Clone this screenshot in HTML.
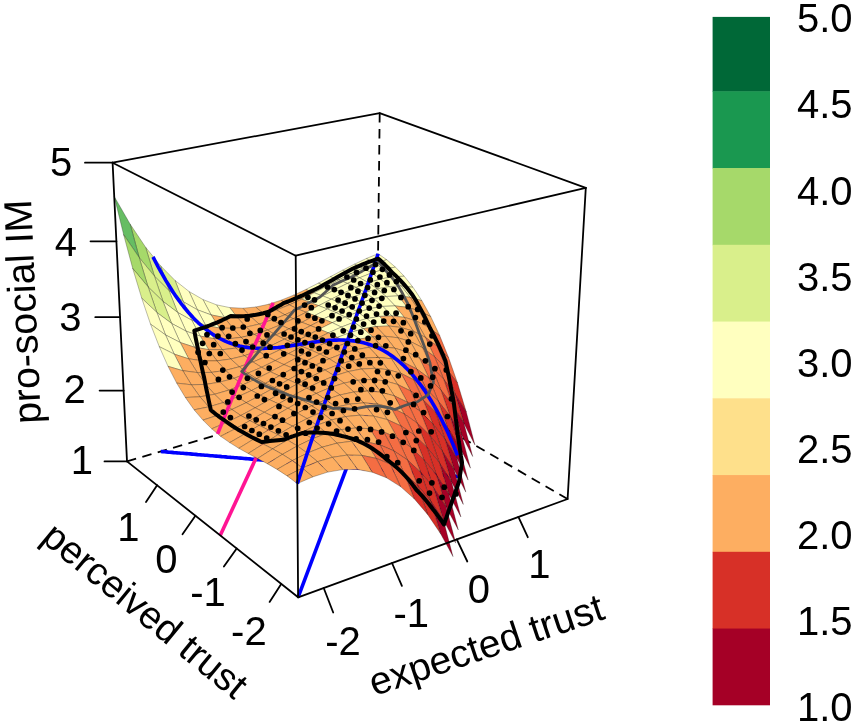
<!DOCTYPE html>
<html><head><meta charset="utf-8"><title>RSA plot</title>
<style>html,body{margin:0;padding:0;background:#fff}body{width:856px;height:727px;overflow:hidden;position:relative}</style></head>
<body>
<svg width="856" height="727" viewBox="0 0 856 727" style="position:absolute;left:0;top:0;filter:blur(0.5px)">
<rect width="856" height="727" fill="#fff"/>
<line x1="127.0" y1="461.4" x2="376.5" y2="388.1" stroke="#000" stroke-width="1.8" stroke-dasharray="9.5,6.5"/>
<line x1="567.6" y1="499.0" x2="376.5" y2="388.1" stroke="#000" stroke-width="1.8" stroke-dasharray="9.5,6.5"/>
<line x1="379.7" y1="113.1" x2="376.5" y2="388.1" stroke="#000" stroke-width="1.8" stroke-dasharray="9.5,6.5"/>
<polyline points="298.1,597.3 376.5,388.1" fill="none" stroke="#0000FF" stroke-width="3.6" stroke-linecap="butt" stroke-linejoin="round"/>
<polyline points="160.8,451.5 162.7,451.6 164.5,451.8 166.3,451.9 168.2,452.1 170.0,452.2 171.8,452.4 173.7,452.6 175.5,452.7 177.4,452.9 179.2,453.0 181.0,453.2 182.9,453.3 184.7,453.5 186.6,453.6 188.4,453.8 190.3,453.9 192.1,454.1 193.9,454.3 195.8,454.4 197.6,454.6 199.5,454.7 201.3,454.9 203.2,455.0 205.0,455.2 206.9,455.3 208.7,455.5 210.6,455.7 212.5,455.8 214.3,456.0 216.2,456.1 218.0,456.3 219.9,456.4 221.7,456.6 223.6,456.7 225.4,456.9 227.3,457.1 229.2,457.2 231.0,457.4 232.9,457.5 234.8,457.7 236.6,457.8 238.5,458.0 240.3,458.1 242.2,458.3 244.1,458.5 245.9,458.6 247.8,458.8 249.7,458.9 251.5,459.1 253.4,459.2 255.3,459.4 257.2,459.6 259.0,459.7 260.9,459.9 262.8,460.0 264.7,460.2 266.5,460.3 268.4,460.5 270.3,460.7 272.2,460.8 274.0,461.0 275.9,461.1 277.8,461.3 279.7,461.4 281.6,461.6 283.4,461.8 285.3,461.9 287.2,462.1 289.1,462.2 291.0,462.4 292.9,462.6 294.7,462.7 296.6,462.9 298.5,463.0 300.4,463.2 302.3,463.3 304.2,463.5 306.1,463.7 308.0,463.8 309.9,464.0 311.8,464.1 313.7,464.3 315.5,464.5 317.4,464.6 319.3,464.8 321.2,464.9 323.1,465.1 325.0,465.3 326.9,465.4 328.8,465.6 330.7,465.7 332.6,465.9 334.5,466.1 336.4,466.2 338.3,466.4 340.2,466.5 342.2,466.7 344.1,466.9 346.0,467.0 347.9,467.2 349.8,467.3 351.7,467.5 353.6,467.7 355.5,467.8 357.4,468.0 359.3,468.1 361.3,468.3 363.2,468.5 365.1,468.6 367.0,468.8 368.9,468.9 370.8,469.1 372.7,469.3 374.7,469.4 376.6,469.6 378.5,469.7 380.4,469.9 382.3,470.1 384.3,470.2 386.2,470.4 388.1,470.5 390.0,470.7 392.0,470.9 393.9,471.0 395.8,471.2 397.7,471.4 399.7,471.5 401.6,471.7 403.5,471.8 405.5,472.0 407.4,472.2 409.3,472.3 411.3,472.5 413.2,472.7 415.1,472.8 417.1,473.0 419.0,473.1 420.9,473.3 422.9,473.5 424.8,473.6 426.8,473.8 428.7,474.0 430.6,474.1 432.6,474.3 434.5,474.4 436.5,474.6 438.4,474.8 440.4,474.9 442.3,475.1 444.3,475.3 446.2,475.4 448.2,475.6 450.1,475.7 452.1,475.9 454.0,476.1 456.0,476.2 457.9,476.4 459.9,476.6 461.8,476.7" fill="none" stroke="#0000FF" stroke-width="3.6" stroke-linecap="butt" stroke-linejoin="round"/>
<polyline points="220.2,535.4 274.6,418.1" fill="none" stroke="#FF1493" stroke-width="3.6" stroke-linecap="butt"/>
<g stroke="#000" stroke-opacity="0.45" stroke-width="0.6" stroke-linejoin="round">
<polygon points="374.9,263.4 386.7,259.7 378.1,253.7 366.3,258.5" fill="#FFFFBF"/>
<polygon points="363.0,268.2 374.9,263.4 366.3,258.5 354.4,264.2" fill="#FFFFBF"/>
<polygon points="383.6,269.4 395.4,267.1 386.7,259.7 374.9,263.4" fill="#FFFFBF"/>
<polygon points="350.9,273.7 363.0,268.2 354.4,264.2 342.4,270.3" fill="#FFFFBF"/>
<polygon points="371.6,273.0 383.6,269.4 374.9,263.4 363.0,268.2" fill="#FFFFBF"/>
<polygon points="338.8,279.9 350.9,273.7 342.4,270.3 330.3,276.7" fill="#FFFFBF"/>
<polygon points="392.3,276.8 404.2,276.2 395.4,267.1 383.6,269.4" fill="#FFFFBF"/>
<polygon points="359.5,277.8 371.6,273.0 363.0,268.2 350.9,273.7" fill="#FFFFBF"/>
<polygon points="326.6,286.3 338.8,279.9 330.3,276.7 318.2,283.2" fill="#FFFFBF"/>
<polygon points="380.4,279.1 392.3,276.8 383.6,269.4 371.6,273.0" fill="#FFFFBF"/>
<polygon points="401.2,286.0 413.0,287.3 404.2,276.2 392.3,276.8" fill="#FFFFBF"/>
<polygon points="347.4,283.4 359.5,277.8 350.9,273.7 338.8,279.9" fill="#FFFFBF"/>
<polygon points="314.2,292.8 326.6,286.3 318.2,283.2 305.9,289.4" fill="#FFFFBF"/>
<polygon points="368.3,282.7 380.4,279.1 371.6,273.0 359.5,277.8" fill="#FFFFBF"/>
<polygon points="335.1,289.5 347.4,283.4 338.8,279.9 326.6,286.3" fill="#FFFFBF"/>
<polygon points="389.2,286.6 401.2,286.0 392.3,276.8 380.4,279.1" fill="#FFFFBF"/>
<polygon points="410.1,297.3 421.9,300.7 413.0,287.3 401.2,286.0" fill="#FFFFBF"/>
<polygon points="301.8,299.1 314.2,292.8 305.9,289.4 293.5,295.2" fill="#FDAE61"/>
<polygon points="356.1,287.4 368.3,282.7 359.5,277.8 347.4,283.4" fill="#FFFFBF"/>
<polygon points="322.7,296.0 335.1,289.5 326.6,286.3 314.2,292.8" fill="#FFFFBF"/>
<polygon points="289.3,304.9 301.8,299.1 293.5,295.2 281.0,300.2" fill="#FDAE61"/>
<polygon points="419.1,310.8 430.8,316.7 421.9,300.7 410.1,297.3" fill="#FDAE61"/>
<polygon points="377.1,288.9 389.2,286.6 380.4,279.1 368.3,282.7" fill="#FFFFBF"/>
<polygon points="398.2,295.9 410.1,297.3 401.2,286.0 389.2,286.6" fill="#FFFFBF"/>
<polygon points="343.7,293.0 356.1,287.4 347.4,283.4 335.1,289.5" fill="#FFFFBF"/>
<polygon points="310.2,302.5 322.7,296.0 314.2,292.8 301.8,299.1" fill="#FFFFBF"/>
<polygon points="276.6,310.0 289.3,304.9 281.0,300.2 268.4,304.3" fill="#FDAE61"/>
<polygon points="428.1,327.0 439.7,335.6 430.8,316.7 419.1,310.8" fill="#FDAE61"/>
<polygon points="364.9,292.5 377.1,288.9 368.3,282.7 356.1,287.4" fill="#FFFFBF"/>
<polygon points="331.3,299.2 343.7,293.0 335.1,289.5 322.7,296.0" fill="#FFFFBF"/>
<polygon points="386.1,296.5 398.2,295.9 389.2,286.6 377.1,288.9" fill="#FFFFBF"/>
<polygon points="407.2,307.3 419.1,310.8 410.1,297.3 398.2,295.9" fill="#FDAE61"/>
<polygon points="297.6,308.9 310.2,302.5 301.8,299.1 289.3,304.9" fill="#FDAE61"/>
<polygon points="437.1,346.1 448.6,357.6 439.7,335.6 428.1,327.0" fill="#F46D43"/>
<polygon points="263.9,314.1 276.6,310.0 268.4,304.3 255.7,307.0" fill="#FDAE61"/>
<polygon points="352.5,297.2 364.9,292.5 356.1,287.4 343.7,293.0" fill="#FFFFBF"/>
<polygon points="318.7,305.7 331.3,299.2 322.7,296.0 310.2,302.5" fill="#FFFFBF"/>
<polygon points="446.1,368.3 457.5,383.0 448.6,357.6 437.1,346.1" fill="#F46D43"/>
<polygon points="284.9,314.8 297.6,308.9 289.3,304.9 276.6,310.0" fill="#FDAE61"/>
<polygon points="416.3,321.0 428.1,327.0 419.1,310.8 407.2,307.3" fill="#FDAE61"/>
<polygon points="373.8,298.7 386.1,296.5 377.1,288.9 364.9,292.5" fill="#FFFFBF"/>
<polygon points="395.1,305.9 407.2,307.3 398.2,295.9 386.1,296.5" fill="#FFFFBF"/>
<polygon points="455.1,394.0 466.3,412.0 457.5,383.0 446.1,368.3" fill="#D73027"/>
<polygon points="340.0,302.8 352.5,297.2 343.7,293.0 331.3,299.2" fill="#FFFFBF"/>
<polygon points="250.9,316.9 263.9,314.1 255.7,307.0 242.8,308.2" fill="#FDAE61"/>
<polygon points="306.1,312.3 318.7,305.7 310.2,302.5 297.6,308.9" fill="#FDAE61"/>
<polygon points="463.9,423.3 474.9,444.9 466.3,412.0 455.1,394.0" fill="#A50026"/>
<polygon points="272.1,319.9 284.9,314.8 276.6,310.0 263.9,314.1" fill="#FDAE61"/>
<polygon points="425.3,337.3 437.1,346.1 428.1,327.0 416.3,321.0" fill="#FDAE61"/>
<polygon points="361.4,302.3 373.8,298.7 364.9,292.5 352.5,297.2" fill="#FFFFBF"/>
<polygon points="327.4,309.0 340.0,302.8 331.3,299.2 318.7,305.7" fill="#FFFFBF"/>
<polygon points="382.8,306.4 395.1,305.9 386.1,296.5 373.8,298.7" fill="#FFFFBF"/>
<polygon points="404.2,317.3 416.3,321.0 407.2,307.3 395.1,305.9" fill="#FDAE61"/>
<polygon points="293.4,318.8 306.1,312.3 297.6,308.9 284.9,314.8" fill="#FDAE61"/>
<polygon points="237.9,318.2 250.9,316.9 242.8,308.2 229.7,307.6" fill="#FDAE61"/>
<polygon points="434.5,356.6 446.1,368.3 437.1,346.1 425.3,337.3" fill="#F46D43"/>
<polygon points="259.2,324.1 272.1,319.9 263.9,314.1 250.9,316.9" fill="#FDAE61"/>
<polygon points="348.8,307.0 361.4,302.3 352.5,297.2 340.0,302.8" fill="#FFFFBF"/>
<polygon points="314.7,315.6 327.4,309.0 318.7,305.7 306.1,312.3" fill="#FFFFBF"/>
<polygon points="443.6,379.1 455.1,394.0 446.1,368.3 434.5,356.6" fill="#F46D43"/>
<polygon points="280.5,324.8 293.4,318.8 284.9,314.8 272.1,319.9" fill="#FDAE61"/>
<polygon points="413.3,331.2 425.3,337.3 416.3,321.0 404.2,317.3" fill="#FDAE61"/>
<polygon points="370.4,308.6 382.8,306.4 373.8,298.7 361.4,302.3" fill="#FFFFBF"/>
<polygon points="391.9,315.9 404.2,317.3 395.1,305.9 382.8,306.4" fill="#FFFFBF"/>
<polygon points="452.6,405.0 463.9,423.3 455.1,394.0 443.6,379.1" fill="#D73027"/>
<polygon points="224.6,317.6 237.9,318.2 229.7,307.6 216.4,304.8" fill="#FFFFBF"/>
<polygon points="336.2,312.7 348.8,307.0 340.0,302.8 327.4,309.0" fill="#FFFFBF"/>
<polygon points="246.1,327.1 259.2,324.1 250.9,316.9 237.9,318.2" fill="#FDAE61"/>
<polygon points="301.9,322.3 314.7,315.6 306.1,312.3 293.4,318.8" fill="#FDAE61"/>
<polygon points="461.6,434.7 472.7,456.5 463.9,423.3 452.6,405.0" fill="#A50026"/>
<polygon points="422.5,347.7 434.5,356.6 425.3,337.3 413.3,331.2" fill="#FDAE61"/>
<polygon points="267.5,330.1 280.5,324.8 272.1,319.9 259.2,324.1" fill="#FDAE61"/>
<polygon points="357.8,312.2 370.4,308.6 361.4,302.3 348.8,307.0" fill="#FFFFBF"/>
<polygon points="323.4,319.0 336.2,312.7 327.4,309.0 314.7,315.6" fill="#FFFFBF"/>
<polygon points="379.5,316.4 391.9,315.9 382.8,306.4 370.4,308.6" fill="#FFFFBF"/>
<polygon points="401.1,327.5 413.3,331.2 404.2,317.3 391.9,315.9" fill="#FDAE61"/>
<polygon points="289.0,328.9 301.9,322.3 293.4,318.8 280.5,324.8" fill="#FDAE61"/>
<polygon points="232.8,328.4 246.1,327.1 237.9,318.2 224.6,317.6" fill="#FDAE61"/>
<polygon points="431.7,367.2 443.6,379.1 434.5,356.6 422.5,347.7" fill="#F46D43"/>
<polygon points="211.1,314.9 224.6,317.6 216.4,304.8 202.9,299.5" fill="#FFFFBF"/>
<polygon points="254.4,334.4 267.5,330.1 259.2,324.1 246.1,327.1" fill="#FDAE61"/>
<polygon points="345.1,317.0 357.8,312.2 348.8,307.0 336.2,312.7" fill="#FFFFBF"/>
<polygon points="310.6,325.7 323.4,319.0 314.7,315.6 301.9,322.3" fill="#FDAE61"/>
<polygon points="440.9,390.0 452.6,405.0 443.6,379.1 431.7,367.2" fill="#F46D43"/>
<polygon points="275.9,335.0 289.0,328.9 280.5,324.8 267.5,330.1" fill="#FDAE61"/>
<polygon points="410.4,341.5 422.5,347.7 413.3,331.2 401.1,327.5" fill="#FDAE61"/>
<polygon points="366.9,318.6 379.5,316.4 370.4,308.6 357.8,312.2" fill="#FFFFBF"/>
<polygon points="388.7,326.0 401.1,327.5 391.9,315.9 379.5,316.4" fill="#FDAE61"/>
<polygon points="450.1,416.2 461.6,434.7 452.6,405.0 440.9,390.0" fill="#D73027"/>
<polygon points="219.4,328.0 232.8,328.4 224.6,317.6 211.1,314.9" fill="#FDAE61"/>
<polygon points="332.3,322.7 345.1,317.0 336.2,312.7 323.4,319.0" fill="#FFFFBF"/>
<polygon points="241.1,337.4 254.4,334.4 246.1,327.1 232.8,328.4" fill="#FDAE61"/>
<polygon points="297.6,332.5 310.6,325.7 301.9,322.3 289.0,328.9" fill="#FDAE61"/>
<polygon points="459.2,446.2 470.5,468.2 461.6,434.7 450.1,416.2" fill="#A50026"/>
<polygon points="197.4,309.8 211.1,314.9 202.9,299.5 189.1,291.5" fill="#FFFFBF"/>
<polygon points="419.6,358.3 431.7,367.2 422.5,347.7 410.4,341.5" fill="#FDAE61"/>
<polygon points="262.8,340.4 275.9,335.0 267.5,330.1 254.4,334.4" fill="#FDAE61"/>
<polygon points="354.1,322.2 366.9,318.6 357.8,312.2 345.1,317.0" fill="#FFFFBF"/>
<polygon points="319.4,329.1 332.3,322.7 323.4,319.0 310.6,325.7" fill="#FDAE61"/>
<polygon points="376.1,326.5 388.7,326.0 379.5,316.4 366.9,318.6" fill="#FFFFBF"/>
<polygon points="398.0,337.8 410.4,341.5 401.1,327.5 388.7,326.0" fill="#FDAE61"/>
<polygon points="284.5,339.2 297.6,332.5 289.0,328.9 275.9,335.0" fill="#FDAE61"/>
<polygon points="227.7,338.9 241.1,337.4 232.8,328.4 219.4,328.0" fill="#FDAE61"/>
<polygon points="428.9,378.0 440.9,390.0 431.7,367.2 419.6,358.3" fill="#F46D43"/>
<polygon points="205.7,325.4 219.4,328.0 211.1,314.9 197.4,309.8" fill="#FFFFBF"/>
<polygon points="249.5,344.9 262.8,340.4 254.4,334.4 241.1,337.4" fill="#FDAE61"/>
<polygon points="341.3,327.1 354.1,322.2 345.1,317.0 332.3,322.7" fill="#FFFFBF"/>
<polygon points="306.3,336.0 319.4,329.1 310.6,325.7 297.6,332.5" fill="#FDAE61"/>
<polygon points="183.4,301.8 197.4,309.8 189.1,291.5 175.0,280.4" fill="#FFFFBF"/>
<polygon points="438.2,401.0 450.1,416.2 440.9,390.0 428.9,378.0" fill="#F46D43"/>
<polygon points="271.3,345.5 284.5,339.2 275.9,335.0 262.8,340.4" fill="#FDAE61"/>
<polygon points="407.3,352.0 419.6,358.3 410.4,341.5 398.0,337.8" fill="#FDAE61"/>
<polygon points="363.3,328.7 376.1,326.5 366.9,318.6 354.1,322.2" fill="#FFFFBF"/>
<polygon points="385.4,336.3 398.0,337.8 388.7,326.0 376.1,326.5" fill="#FDAE61"/>
<polygon points="447.5,427.5 459.2,446.2 450.1,416.2 438.2,401.0" fill="#D73027"/>
<polygon points="214.0,338.6 227.7,338.9 219.4,328.0 205.7,325.4" fill="#FDAE61"/>
<polygon points="328.3,332.9 341.3,327.1 332.3,322.7 319.4,329.1" fill="#FFFFBF"/>
<polygon points="236.0,348.1 249.5,344.9 241.1,337.4 227.7,338.9" fill="#FDAE61"/>
<polygon points="293.2,342.9 306.3,336.0 297.6,332.5 284.5,339.2" fill="#FDAE61"/>
<polygon points="456.7,457.8 468.1,480.1 459.2,446.2 447.5,427.5" fill="#A50026"/>
<polygon points="191.8,320.3 205.7,325.4 197.4,309.8 183.4,301.8" fill="#FFFFBF"/>
<polygon points="258.0,351.0 271.3,345.5 262.8,340.4 249.5,344.9" fill="#FDAE61"/>
<polygon points="416.7,368.9 428.9,378.0 419.6,358.3 407.3,352.0" fill="#FDAE61"/>
<polygon points="350.4,332.5 363.3,328.7 354.1,322.2 341.3,327.1" fill="#FFFFBF"/>
<polygon points="315.2,339.5 328.3,332.9 319.4,329.1 306.3,336.0" fill="#FDAE61"/>
<polygon points="372.6,336.8 385.4,336.3 376.1,326.5 363.3,328.7" fill="#FDAE61"/>
<polygon points="394.7,348.2 407.3,352.0 398.0,337.8 385.4,336.3" fill="#FDAE61"/>
<polygon points="279.9,349.8 293.2,342.9 284.5,339.2 271.3,345.5" fill="#FDAE61"/>
<polygon points="169.1,290.7 183.4,301.8 175.0,280.4 160.5,265.7" fill="#D9EF8B"/>
<polygon points="222.4,349.7 236.0,348.1 227.7,338.9 214.0,338.6" fill="#FDAE61"/>
<polygon points="426.1,388.9 438.2,401.0 428.9,378.0 416.7,368.9" fill="#F46D43"/>
<polygon points="200.2,336.1 214.0,338.6 205.7,325.4 191.8,320.3" fill="#FFFFBF"/>
<polygon points="244.5,355.7 258.0,351.0 249.5,344.9 236.0,348.1" fill="#FDAE61"/>
<polygon points="337.4,337.4 350.4,332.5 341.3,327.1 328.3,332.9" fill="#FFFFBF"/>
<polygon points="302.0,346.5 315.2,339.5 306.3,336.0 293.2,342.9" fill="#FDAE61"/>
<polygon points="177.6,312.4 191.8,320.3 183.4,301.8 169.1,290.7" fill="#FFFFBF"/>
<polygon points="435.5,412.2 447.5,427.5 438.2,401.0 426.1,388.9" fill="#F46D43"/>
<polygon points="266.5,356.2 279.9,349.8 271.3,345.5 258.0,351.0" fill="#FDAE61"/>
<polygon points="404.2,362.6 416.7,368.9 407.3,352.0 394.7,348.2" fill="#FDAE61"/>
<polygon points="359.6,339.1 372.6,336.8 363.3,328.7 350.4,332.5" fill="#FFFFBF"/>
<polygon points="382.0,346.7 394.7,348.2 385.4,336.3 372.6,336.8" fill="#FDAE61"/>
<polygon points="444.9,439.1 456.7,457.8 447.5,427.5 435.5,412.2" fill="#D73027"/>
<polygon points="208.6,349.6 222.4,349.7 214.0,338.6 200.2,336.1" fill="#FDAE61"/>
<polygon points="324.2,343.4 337.4,337.4 328.3,332.9 315.2,339.5" fill="#FDAE61"/>
<polygon points="230.8,359.0 244.5,355.7 236.0,348.1 222.4,349.7" fill="#FDAE61"/>
<polygon points="288.6,353.6 302.0,346.5 293.2,342.9 279.9,349.8" fill="#FDAE61"/>
<polygon points="454.2,469.7 465.8,492.1 456.7,457.8 444.9,439.1" fill="#A50026"/>
<polygon points="186.1,331.2 200.2,336.1 191.8,320.3 177.6,312.4" fill="#FFFFBF"/>
<polygon points="253.0,362.0 266.5,356.2 258.0,351.0 244.5,355.7" fill="#FDAE61"/>
<polygon points="413.7,379.8 426.1,388.9 416.7,368.9 404.2,362.6" fill="#F46D43"/>
<polygon points="346.6,342.9 359.6,339.1 350.4,332.5 337.4,337.4" fill="#FFFFBF"/>
<polygon points="154.4,276.1 169.1,290.7 160.5,265.7 145.6,247.2" fill="#D9EF8B"/>
<polygon points="310.9,350.1 324.2,343.4 315.2,339.5 302.0,346.5" fill="#FDAE61"/>
<polygon points="369.0,347.3 382.0,346.7 372.6,336.8 359.6,339.1" fill="#FDAE61"/>
<polygon points="391.4,358.8 404.2,362.6 394.7,348.2 382.0,346.7" fill="#FDAE61"/>
<polygon points="275.2,360.6 288.6,353.6 279.9,349.8 266.5,356.2" fill="#FDAE61"/>
<polygon points="163.0,301.4 177.6,312.4 169.1,290.7 154.4,276.1" fill="#D9EF8B"/>
<polygon points="217.0,360.9 230.8,359.0 222.4,349.7 208.6,349.6" fill="#FDAE61"/>
<polygon points="423.2,400.0 435.5,412.2 426.1,388.9 413.7,379.8" fill="#F46D43"/>
<polygon points="194.5,347.2 208.6,349.6 200.2,336.1 186.1,331.2" fill="#FFFFBF"/>
<polygon points="239.3,366.8 253.0,362.0 244.5,355.7 230.8,359.0" fill="#FDAE61"/>
<polygon points="333.3,348.0 346.6,342.9 337.4,337.4 324.2,343.4" fill="#FDAE61"/>
<polygon points="297.5,357.2 310.9,350.1 302.0,346.5 288.6,353.6" fill="#FDAE61"/>
<polygon points="171.6,323.4 186.1,331.2 177.6,312.4 163.0,301.4" fill="#FFFFBF"/>
<polygon points="432.7,423.6 444.9,439.1 435.5,412.2 423.2,400.0" fill="#D73027"/>
<polygon points="261.6,367.3 275.2,360.6 266.5,356.2 253.0,362.0" fill="#FDAE61"/>
<polygon points="401.0,373.4 413.7,379.8 404.2,362.6 391.4,358.8" fill="#FDAE61"/>
<polygon points="355.9,349.7 369.0,347.3 359.6,339.1 346.6,342.9" fill="#FDAE61"/>
<polygon points="378.5,357.4 391.4,358.8 382.0,346.7 369.0,347.3" fill="#FDAE61"/>
<polygon points="203.0,360.9 217.0,360.9 208.6,349.6 194.5,347.2" fill="#FDAE61"/>
<polygon points="442.1,450.8 454.2,469.7 444.9,439.1 432.7,423.6" fill="#D73027"/>
<polygon points="320.0,354.1 333.3,348.0 324.2,343.4 310.9,350.1" fill="#FDAE61"/>
<polygon points="225.5,370.4 239.3,366.8 230.8,359.0 217.0,360.9" fill="#FDAE61"/>
<polygon points="139.2,257.6 154.4,276.1 145.6,247.2 130.2,224.2" fill="#A6D96A"/>
<polygon points="284.0,364.6 297.5,357.2 288.6,353.6 275.2,360.6" fill="#FDAE61"/>
<polygon points="180.2,342.5 194.5,347.2 186.1,331.2 171.6,323.4" fill="#FFFFBF"/>
<polygon points="451.6,481.9 463.3,504.4 454.2,469.7 442.1,450.8" fill="#A50026"/>
<polygon points="247.9,373.2 261.6,367.3 253.0,362.0 239.3,366.8" fill="#FDAE61"/>
<polygon points="410.6,390.9 423.2,400.0 413.7,379.8 401.0,373.4" fill="#F46D43"/>
<polygon points="148.1,286.9 163.0,301.4 154.4,276.1 139.2,257.6" fill="#D9EF8B"/>
<polygon points="342.6,353.6 355.9,349.7 346.6,342.9 333.3,348.0" fill="#FDAE61"/>
<polygon points="306.5,361.0 320.0,354.1 310.9,350.1 297.5,357.2" fill="#FDAE61"/>
<polygon points="365.4,358.0 378.5,357.4 369.0,347.3 355.9,349.7" fill="#FDAE61"/>
<polygon points="388.1,369.7 401.0,373.4 391.4,358.8 378.5,357.4" fill="#FDAE61"/>
<polygon points="270.4,371.8 284.0,364.6 275.2,360.6 261.6,367.3" fill="#FDAE61"/>
<polygon points="156.9,312.5 171.6,323.4 163.0,301.4 148.1,286.9" fill="#D9EF8B"/>
<polygon points="211.5,372.4 225.5,370.4 217.0,360.9 203.0,360.9" fill="#FDAE61"/>
<polygon points="188.7,358.8 203.0,360.9 194.5,347.2 180.2,342.5" fill="#FDAE61"/>
<polygon points="420.2,411.4 432.7,423.6 423.2,400.0 410.6,390.9" fill="#F46D43"/>
<polygon points="234.1,378.3 247.9,373.2 239.3,366.8 225.5,370.4" fill="#FDAE61"/>
<polygon points="329.2,358.8 342.6,353.6 333.3,348.0 320.0,354.1" fill="#FDAE61"/>
<polygon points="293.0,368.3 306.5,361.0 297.5,357.2 284.0,364.6" fill="#FDAE61"/>
<polygon points="165.5,334.9 180.2,342.5 171.6,323.4 156.9,312.5" fill="#FFFFBF"/>
<polygon points="429.8,435.3 442.1,450.8 432.7,423.6 420.2,411.4" fill="#D73027"/>
<polygon points="256.6,378.7 270.4,371.8 261.6,367.3 247.9,373.2" fill="#FDAE61"/>
<polygon points="397.7,384.5 410.6,390.9 401.0,373.4 388.1,369.7" fill="#FDAE61"/>
<polygon points="352.1,360.5 365.4,358.0 355.9,349.7 342.6,353.6" fill="#FDAE61"/>
<polygon points="374.9,368.3 388.1,369.7 378.5,357.4 365.4,358.0" fill="#FDAE61"/>
<polygon points="197.3,372.6 211.5,372.4 203.0,360.9 188.7,358.8" fill="#FDAE61"/>
<polygon points="123.6,234.6 139.2,257.6 130.2,224.2 114.2,196.4" fill="#66BD63"/>
<polygon points="439.4,462.8 451.6,481.9 442.1,450.8 429.8,435.3" fill="#D73027"/>
<polygon points="315.7,365.1 329.2,358.8 320.0,354.1 306.5,361.0" fill="#FDAE61"/>
<polygon points="220.0,382.1 234.1,378.3 225.5,370.4 211.5,372.4" fill="#FDAE61"/>
<polygon points="132.7,268.4 148.1,286.9 139.2,257.6 123.6,234.6" fill="#A6D96A"/>
<polygon points="279.3,375.9 293.0,368.3 284.0,364.6 270.4,371.8" fill="#FDAE61"/>
<polygon points="174.2,354.1 188.7,358.8 180.2,342.5 165.5,334.9" fill="#FFFFBF"/>
<polygon points="448.9,494.3 460.9,517.0 451.6,481.9 439.4,462.8" fill="#A50026"/>
<polygon points="242.7,384.9 256.6,378.7 247.9,373.2 234.1,378.3" fill="#FDAE61"/>
<polygon points="407.4,402.2 420.2,411.4 410.6,390.9 397.7,384.5" fill="#F46D43"/>
<polygon points="141.7,298.1 156.9,312.5 148.1,286.9 132.7,268.4" fill="#D9EF8B"/>
<polygon points="338.6,364.6 352.1,360.5 342.6,353.6 329.2,358.8" fill="#FDAE61"/>
<polygon points="302.1,372.2 315.7,365.1 306.5,361.0 293.0,368.3" fill="#FDAE61"/>
<polygon points="361.6,369.0 374.9,368.3 365.4,358.0 352.1,360.5" fill="#FDAE61"/>
<polygon points="384.6,380.8 397.7,384.5 388.1,369.7 374.9,368.3" fill="#FDAE61"/>
<polygon points="265.4,383.4 279.3,375.9 270.4,371.8 256.6,378.7" fill="#FDAE61"/>
<polygon points="150.5,324.1 165.5,334.9 156.9,312.5 141.7,298.1" fill="#FFFFBF"/>
<polygon points="205.8,384.4 220.0,382.1 211.5,372.4 197.3,372.6" fill="#FDAE61"/>
<polygon points="182.8,370.7 197.3,372.6 188.7,358.8 174.2,354.1" fill="#FDAE61"/>
<polygon points="417.1,423.0 429.8,435.3 420.2,411.4 407.4,402.2" fill="#F46D43"/>
<polygon points="228.7,390.2 242.7,384.9 234.1,378.3 220.0,382.1" fill="#FDAE61"/>
<polygon points="325.0,370.0 338.6,364.6 329.2,358.8 315.7,365.1" fill="#FDAE61"/>
<polygon points="288.3,379.8 302.1,372.2 293.0,368.3 279.3,375.9" fill="#FDAE61"/>
<polygon points="159.3,346.7 174.2,354.1 165.5,334.9 150.5,324.1" fill="#FFFFBF"/>
<polygon points="251.5,390.5 265.4,383.4 256.6,378.7 242.7,384.9" fill="#FDAE61"/>
<polygon points="426.8,447.2 439.4,462.8 429.8,435.3 417.1,423.0" fill="#D73027"/>
<polygon points="394.3,395.9 407.4,402.2 397.7,384.5 384.6,380.8" fill="#FDAE61"/>
<polygon points="348.1,371.6 361.6,369.0 352.1,360.5 338.6,364.6" fill="#FDAE61"/>
<polygon points="371.3,379.5 384.6,380.8 374.9,368.3 361.6,369.0" fill="#FDAE61"/>
<polygon points="191.4,384.8 205.8,384.4 197.3,372.6 182.8,370.7" fill="#FDAE61"/>
<polygon points="436.5,475.2 448.9,494.3 439.4,462.8 426.8,447.2" fill="#D73027"/>
<polygon points="214.5,394.3 228.7,390.2 220.0,382.1 205.8,384.4" fill="#FDAE61"/>
<polygon points="311.3,376.5 325.0,370.0 315.7,365.1 302.1,372.2" fill="#FDAE61"/>
<polygon points="274.4,387.6 288.3,379.8 279.3,375.9 265.4,383.4" fill="#FDAE61"/>
<polygon points="168.0,366.3 182.8,370.7 174.2,354.1 159.3,346.7" fill="#FFFFBF"/>
<polygon points="446.2,507.0 458.3,529.9 448.9,494.3 436.5,475.2" fill="#A50026"/>
<polygon points="237.4,397.0 251.5,390.5 242.7,384.9 228.7,390.2" fill="#FDAE61"/>
<polygon points="404.1,413.8 417.1,423.0 407.4,402.2 394.3,395.9" fill="#F46D43"/>
<polygon points="334.5,375.9 348.1,371.6 338.6,364.6 325.0,370.0" fill="#FDAE61"/>
<polygon points="297.5,383.8 311.3,376.5 302.1,372.2 288.3,379.8" fill="#FDAE61"/>
<polygon points="357.8,380.3 371.3,379.5 361.6,369.0 348.1,371.6" fill="#FDAE61"/>
<polygon points="381.0,392.2 394.3,395.9 384.6,380.8 371.3,379.5" fill="#FDAE61"/>
<polygon points="260.4,395.3 274.4,387.6 265.4,383.4 251.5,390.5" fill="#FDAE61"/>
<polygon points="200.0,396.8 214.5,394.3 205.8,384.4 191.4,384.8" fill="#FDAE61"/>
<polygon points="176.7,383.1 191.4,384.8 182.8,370.7 168.0,366.3" fill="#FDAE61"/>
<polygon points="414.0,434.9 426.8,447.2 417.1,423.0 404.1,413.8" fill="#F46D43"/>
<polygon points="223.2,402.6 237.4,397.0 228.7,390.2 214.5,394.3" fill="#FDAE61"/>
<polygon points="320.7,381.5 334.5,375.9 325.0,370.0 311.3,376.5" fill="#FDAE61"/>
<polygon points="283.5,391.6 297.5,383.8 288.3,379.8 274.4,387.6" fill="#FDAE61"/>
<polygon points="246.2,402.7 260.4,395.3 251.5,390.5 237.4,397.0" fill="#FDAE61"/>
<polygon points="423.8,459.5 436.5,475.2 426.8,447.2 414.0,434.9" fill="#D73027"/>
<polygon points="390.9,407.5 404.1,413.8 394.3,395.9 381.0,392.2" fill="#FDAE61"/>
<polygon points="344.1,383.1 357.8,380.3 348.1,371.6 334.5,375.9" fill="#FDAE61"/>
<polygon points="367.5,391.0 381.0,392.2 371.3,379.5 357.8,380.3" fill="#FDAE61"/>
<polygon points="185.4,397.5 200.0,396.8 191.4,384.8 176.7,383.1" fill="#FDAE61"/>
<polygon points="208.7,406.9 223.2,402.6 214.5,394.3 200.0,396.8" fill="#FDAE61"/>
<polygon points="433.6,487.8 446.2,507.0 436.5,475.2 423.8,459.5" fill="#D73027"/>
<polygon points="306.8,388.2 320.7,381.5 311.3,376.5 297.5,383.8" fill="#FDAE61"/>
<polygon points="269.4,399.7 283.5,391.6 274.4,387.6 260.4,395.3" fill="#FDAE61"/>
<polygon points="443.4,520.1 455.7,543.1 446.2,507.0 433.6,487.8" fill="#A50026"/>
<polygon points="231.9,409.5 246.2,402.7 237.4,397.0 223.2,402.6" fill="#FDAE61"/>
<polygon points="400.8,425.8 414.0,434.9 404.1,413.8 390.9,407.5" fill="#F46D43"/>
<polygon points="330.2,387.6 344.1,383.1 334.5,375.9 320.7,381.5" fill="#FDAE61"/>
<polygon points="292.7,395.8 306.8,388.2 297.5,383.8 283.5,391.6" fill="#FDAE61"/>
<polygon points="353.8,392.0 367.5,391.0 357.8,380.3 344.1,383.1" fill="#FDAE61"/>
<polygon points="377.4,404.0 390.9,407.5 381.0,392.2 367.5,391.0" fill="#FDAE61"/>
<polygon points="255.2,407.8 269.4,399.7 260.4,395.3 246.2,402.7" fill="#FDAE61"/>
<polygon points="194.1,409.8 208.7,406.9 200.0,396.8 185.4,397.5" fill="#FDAE61"/>
<polygon points="410.7,447.2 423.8,459.5 414.0,434.9 400.8,425.8" fill="#F46D43"/>
<polygon points="217.5,415.4 231.9,409.5 223.2,402.6 208.7,406.9" fill="#FDAE61"/>
<polygon points="316.3,393.4 330.2,387.6 320.7,381.5 306.8,388.2" fill="#FDAE61"/>
<polygon points="278.6,403.9 292.7,395.8 283.5,391.6 269.4,399.7" fill="#FDAE61"/>
<polygon points="240.8,415.5 255.2,407.8 246.2,402.7 231.9,409.5" fill="#FDAE61"/>
<polygon points="420.7,472.2 433.6,487.8 423.8,459.5 410.7,447.2" fill="#D73027"/>
<polygon points="387.3,419.6 400.8,425.8 390.9,407.5 377.4,404.0" fill="#FDAE61"/>
<polygon points="339.9,395.0 353.8,392.0 344.1,383.1 330.2,387.6" fill="#FDAE61"/>
<polygon points="363.7,402.9 377.4,404.0 367.5,391.0 353.8,392.0" fill="#FDAE61"/>
<polygon points="202.9,420.1 217.5,415.4 208.7,406.9 194.1,409.8" fill="#FDAE61"/>
<polygon points="430.6,500.9 443.4,520.1 433.6,487.8 420.7,472.2" fill="#D73027"/>
<polygon points="302.1,400.4 316.3,393.4 306.8,388.2 292.7,395.8" fill="#FDAE61"/>
<polygon points="264.3,412.3 278.6,403.9 269.4,399.7 255.2,407.8" fill="#FDAE61"/>
<polygon points="440.5,533.6 453.0,556.6 443.4,520.1 430.6,500.9" fill="#A50026"/>
<polygon points="226.4,422.6 240.8,415.5 231.9,409.5 217.5,415.4" fill="#FDAE61"/>
<polygon points="397.4,438.1 410.7,447.2 400.8,425.8 387.3,419.6" fill="#F46D43"/>
<polygon points="325.9,399.7 339.9,395.0 330.2,387.6 316.3,393.4" fill="#FDAE61"/>
<polygon points="287.9,408.3 302.1,400.4 292.7,395.8 278.6,403.9" fill="#FDAE61"/>
<polygon points="349.8,404.1 363.7,402.9 353.8,392.0 339.9,395.0" fill="#FDAE61"/>
<polygon points="373.6,416.1 387.3,419.6 377.4,404.0 363.7,402.9" fill="#FDAE61"/>
<polygon points="249.9,420.7 264.3,412.3 255.2,407.8 240.8,415.5" fill="#FDAE61"/>
<polygon points="211.7,428.8 226.4,422.6 217.5,415.4 202.9,420.1" fill="#FDAE61"/>
<polygon points="407.4,459.9 420.7,472.2 410.7,447.2 397.4,438.1" fill="#F46D43"/>
<polygon points="311.7,405.8 325.9,399.7 316.3,393.4 302.1,400.4" fill="#FDAE61"/>
<polygon points="273.5,416.7 287.9,408.3 278.6,403.9 264.3,412.3" fill="#FDAE61"/>
<polygon points="235.3,428.8 249.9,420.7 240.8,415.5 226.4,422.6" fill="#FDAE61"/>
<polygon points="417.5,485.2 430.6,500.9 420.7,472.2 407.4,459.9" fill="#D73027"/>
<polygon points="383.7,432.0 397.4,438.1 387.3,419.6 373.6,416.1" fill="#FDAE61"/>
<polygon points="335.7,407.3 349.8,404.1 339.9,395.0 325.9,399.7" fill="#FDAE61"/>
<polygon points="359.7,415.2 373.6,416.1 363.7,402.9 349.8,404.1" fill="#FDAE61"/>
<polygon points="297.4,413.1 311.7,405.8 302.1,400.4 287.9,408.3" fill="#FDAE61"/>
<polygon points="427.6,514.4 440.5,533.6 430.6,500.9 417.5,485.2" fill="#D73027"/>
<polygon points="259.1,425.4 273.5,416.7 264.3,412.3 249.9,420.7" fill="#FDAE61"/>
<polygon points="220.6,436.3 235.3,428.8 226.4,422.6 211.7,428.8" fill="#FDAE61"/>
<polygon points="393.8,450.9 407.4,459.9 397.4,438.1 383.7,432.0" fill="#F46D43"/>
<polygon points="321.4,412.2 335.7,407.3 325.9,399.7 311.7,405.8" fill="#FDAE61"/>
<polygon points="282.9,421.3 297.4,413.1 287.9,408.3 273.5,416.7" fill="#FDAE61"/>
<polygon points="345.6,416.6 359.7,415.2 349.8,404.1 335.7,407.3" fill="#FDAE61"/>
<polygon points="369.8,428.7 383.7,432.0 373.6,416.1 359.7,415.2" fill="#FDAE61"/>
<polygon points="244.4,434.2 259.1,425.4 249.9,420.7 235.3,428.8" fill="#FDAE61"/>
<polygon points="404.0,473.0 417.5,485.2 407.4,459.9 393.8,450.9" fill="#F46D43"/>
<polygon points="307.0,418.6 321.4,412.2 311.7,405.8 297.4,413.1" fill="#FDAE61"/>
<polygon points="268.4,430.0 282.9,421.3 273.5,416.7 259.1,425.4" fill="#FDAE61"/>
<polygon points="229.7,442.6 244.4,434.2 235.3,428.8 220.6,436.3" fill="#FDAE61"/>
<polygon points="414.2,498.7 427.6,514.4 417.5,485.2 404.0,473.0" fill="#D73027"/>
<polygon points="331.3,420.0 345.6,416.6 335.7,407.3 321.4,412.2" fill="#FDAE61"/>
<polygon points="380.0,444.9 393.8,450.9 383.7,432.0 369.8,428.7" fill="#F46D43"/>
<polygon points="355.7,428.0 369.8,428.7 359.7,415.2 345.6,416.6" fill="#FDAE61"/>
<polygon points="292.5,426.2 307.0,418.6 297.4,413.1 282.9,421.3" fill="#FDAE61"/>
<polygon points="253.7,439.1 268.4,430.0 259.1,425.4 244.4,434.2" fill="#FDAE61"/>
<polygon points="390.2,464.1 404.0,473.0 393.8,450.9 380.0,444.9" fill="#F46D43"/>
<polygon points="316.9,425.3 331.3,420.0 321.4,412.2 307.0,418.6" fill="#FDAE61"/>
<polygon points="277.9,434.8 292.5,426.2 282.9,421.3 268.4,430.0" fill="#FDAE61"/>
<polygon points="238.8,448.3 253.7,439.1 244.4,434.2 229.7,442.6" fill="#FDAE61"/>
<polygon points="341.3,429.6 355.7,428.0 345.6,416.6 331.3,420.0" fill="#FDAE61"/>
<polygon points="365.9,441.8 380.0,444.9 369.8,428.7 355.7,428.0" fill="#FDAE61"/>
<polygon points="400.5,486.6 414.2,498.7 404.0,473.0 390.2,464.1" fill="#F46D43"/>
<polygon points="302.3,432.0 316.9,425.3 307.0,418.6 292.5,426.2" fill="#FDAE61"/>
<polygon points="263.1,444.0 277.9,434.8 268.4,430.0 253.7,439.1" fill="#FDAE61"/>
<polygon points="326.8,433.3 341.3,429.6 331.3,420.0 316.9,425.3" fill="#FDAE61"/>
<polygon points="376.1,458.3 390.2,464.1 380.0,444.9 365.9,441.8" fill="#F46D43"/>
<polygon points="351.5,441.3 365.9,441.8 355.7,428.0 341.3,429.6" fill="#FDAE61"/>
<polygon points="287.5,440.0 302.3,432.0 292.5,426.2 277.9,434.8" fill="#FDAE61"/>
<polygon points="248.2,453.5 263.1,444.0 253.7,439.1 238.8,448.3" fill="#FDAE61"/>
<polygon points="386.5,477.8 400.5,486.6 390.2,464.1 376.1,458.3" fill="#F46D43"/>
<polygon points="312.2,438.9 326.8,433.3 316.9,425.3 302.3,432.0" fill="#FDAE61"/>
<polygon points="272.6,448.9 287.5,440.0 277.9,434.8 263.1,444.0" fill="#FDAE61"/>
<polygon points="337.0,443.2 351.5,441.3 341.3,429.6 326.8,433.3" fill="#FDAE61"/>
<polygon points="361.8,455.4 376.1,458.3 365.9,441.8 351.5,441.3" fill="#FDAE61"/>
<polygon points="297.3,446.0 312.2,438.9 302.3,432.0 287.5,440.0" fill="#FDAE61"/>
<polygon points="257.6,458.5 272.6,448.9 263.1,444.0 248.2,453.5" fill="#FDAE61"/>
<polygon points="322.2,447.2 337.0,443.2 326.8,433.3 312.2,438.9" fill="#FDAE61"/>
<polygon points="372.2,472.2 386.5,477.8 376.1,458.3 361.8,455.4" fill="#F46D43"/>
<polygon points="347.2,455.1 361.8,455.4 351.5,441.3 337.0,443.2" fill="#FDAE61"/>
<polygon points="282.4,454.4 297.3,446.0 287.5,440.0 272.6,448.9" fill="#FDAE61"/>
<polygon points="307.3,453.1 322.2,447.2 312.2,438.9 297.3,446.0" fill="#FDAE61"/>
<polygon points="267.3,463.7 282.4,454.4 272.6,448.9 257.6,458.5" fill="#FDAE61"/>
<polygon points="332.5,457.3 347.2,455.1 337.0,443.2 322.2,447.2" fill="#FDAE61"/>
<polygon points="357.6,469.5 372.2,472.2 361.8,455.4 347.2,455.1" fill="#FDAE61"/>
<polygon points="292.3,460.6 307.3,453.1 297.3,446.0 282.4,454.4" fill="#FDAE61"/>
<polygon points="317.5,461.7 332.5,457.3 322.2,447.2 307.3,453.1" fill="#FDAE61"/>
<polygon points="342.8,469.6 357.6,469.5 347.2,455.1 332.5,457.3" fill="#FDAE61"/>
<polygon points="277.1,469.4 292.3,460.6 282.4,454.4 267.3,463.7" fill="#FDAE61"/>
<polygon points="302.4,468.0 317.5,461.7 307.3,453.1 292.3,460.6" fill="#FDAE61"/>
<polygon points="327.8,472.1 342.8,469.6 332.5,457.3 317.5,461.7" fill="#FDAE61"/>
<polygon points="287.1,475.9 302.4,468.0 292.3,460.6 277.1,469.4" fill="#FDAE61"/>
<polygon points="312.7,476.9 327.8,472.1 317.5,461.7 302.4,468.0" fill="#FDAE61"/>
<polygon points="297.3,483.6 312.7,476.9 302.4,468.0 287.1,475.9" fill="#FDAE61"/>
</g>
<polyline points="297.3,483.6 298.6,479.6 299.9,475.6 301.2,471.7 302.5,467.8 303.7,464.0 305.0,460.2 306.2,456.4 307.5,452.7 308.7,449.1 309.9,445.5 311.1,441.9 312.3,438.4 313.5,434.9 314.7,431.4 315.9,428.0 317.1,424.6 318.3,421.2 319.4,417.9 320.6,414.6 321.7,411.4 322.9,408.2 324.0,405.0 325.1,401.8 326.2,398.7 327.3,395.6 328.4,392.6 329.5,389.5 330.6,386.5 331.7,383.5 332.8,380.6 333.8,377.6 334.9,374.7 336.0,371.8 337.0,369.0 338.0,366.1 339.1,363.3 340.1,360.5 341.1,357.7 342.1,355.0 343.1,352.2 344.1,349.5 345.1,346.8 346.1,344.1 347.1,341.4 348.1,338.8 349.1,336.1 350.0,333.5 351.0,330.9 351.9,328.3 352.9,325.7 353.8,323.1 354.8,320.6 355.7,318.0 356.6,315.5 357.5,312.9 358.4,310.4 359.3,307.9 360.3,305.4 361.1,302.9 362.0,300.4 362.9,297.9 363.8,295.4 364.7,292.9 365.6,290.5 366.4,288.0 367.3,285.6 368.2,283.1 369.0,280.6 369.9,278.2 370.7,275.7 371.5,273.3 372.4,270.8 373.2,268.4 374.0,266.0 374.8,263.5 375.7,261.1 376.5,258.6 377.3,256.2 378.1,253.7" fill="none" stroke="#0000FF" stroke-width="3.6" stroke-linecap="butt" stroke-linejoin="round"/>
<polyline points="153.0,256.9 155.6,262.0 158.2,267.0 160.8,271.7 163.4,276.2 165.9,280.6 168.5,284.8 171.0,288.8 173.5,292.7 176.0,296.4 178.5,299.9 181.0,303.3 183.5,306.5 186.0,309.5 188.5,312.5 191.0,315.2 193.4,317.9 195.9,320.4 198.3,322.8 200.8,325.0 203.2,327.1 205.7,329.1 208.1,331.0 210.5,332.8 213.0,334.4 215.4,335.9 217.8,337.4 220.2,338.7 222.7,339.9 225.1,341.1 227.5,342.1 229.9,343.0 232.3,343.9 234.7,344.7 237.1,345.3 239.5,346.0 241.9,346.5 244.3,347.0 246.8,347.4 249.2,347.7 251.6,347.9 254.0,348.1 256.4,348.3 258.8,348.4 261.2,348.4 263.6,348.4 266.0,348.3 268.4,348.2 270.8,348.1 273.2,347.9 275.6,347.7 278.0,347.5 280.5,347.2 282.9,346.9 285.3,346.6 287.7,346.2 290.1,345.9 292.5,345.5 295.0,345.1 297.4,344.7 299.8,344.3 302.3,343.9 304.7,343.6 307.1,343.2 309.6,342.8 312.0,342.4 314.4,342.1 316.9,341.7 319.3,341.4 321.8,341.1 324.2,340.9 326.7,340.6 329.1,340.4 331.6,340.3 334.0,340.1 336.5,340.1 338.9,340.0 341.4,340.0 343.8,340.1 346.3,340.2 348.8,340.4 351.2,340.6 353.7,340.9 356.1,341.3 358.6,341.7 361.1,342.2 363.5,342.8 366.0,343.4 368.5,344.2 370.9,345.0 373.4,345.9 375.9,346.9 378.3,348.0 380.8,349.2 383.2,350.5 385.7,351.9 388.2,353.4 390.6,355.0 393.1,356.8 395.5,358.6 398.0,360.6 400.4,362.6 402.9,364.8 405.3,367.2 407.7,369.6 410.2,372.2 412.6,374.9 415.0,377.8 417.4,380.8 419.8,383.9 422.3,387.2 424.7,390.6 427.0,394.2 429.4,398.0 431.8,401.8 434.2,405.9 436.6,410.1 438.9,414.5 441.3,419.0 443.6,423.7 446.0,428.5 448.3,433.5 450.6,438.7 452.9,444.1 455.2,449.7 457.5,455.4" fill="none" stroke="#0000FF" stroke-width="3.6" stroke-linecap="butt" stroke-linejoin="round"/>
<polyline points="217.6,433.9 218.4,431.8 219.2,429.8 220.0,427.9 220.8,425.9 221.6,423.9 222.3,422.0 223.1,420.0 223.9,418.1 224.7,416.2 225.5,414.3 226.3,412.4 227.0,410.5 227.8,408.6 228.6,406.7 229.3,404.9 230.1,403.1 230.9,401.2 231.6,399.4 232.4,397.6 233.1,395.8 233.9,394.0 234.6,392.2 235.4,390.5 236.1,388.7 236.8,386.9 237.6,385.2 238.3,383.5 239.0,381.7 239.8,380.0 240.5,378.3 241.2,376.6 241.9,374.9 242.7,373.3 243.4,371.6 244.1,369.9 244.8,368.3 245.5,366.6 246.2,365.0 246.9,363.3 247.6,361.7 248.3,360.1 249.0,358.5 249.7,356.9 250.4,355.3 251.1,353.7 251.8,352.1 252.5,350.5 253.1,349.0 253.8,347.4 254.5,345.9 255.2,344.3 255.9,342.8 256.5,341.2 257.2,339.7 257.9,338.2 258.5,336.6 259.2,335.1 259.8,333.6 260.5,332.1 261.1,330.6 261.8,329.1 262.4,327.6 263.1,326.1 263.7,324.6 264.4,323.2 265.0,321.7 265.7,320.2 266.3,318.8 266.9,317.3 267.6,315.8 268.2,314.4 268.8,312.9 269.5,311.5 270.1,310.1 270.7,308.6 271.3,307.2 271.9,305.8 272.6,304.3 273.2,302.9" fill="none" stroke="#FF1493" stroke-width="3.6" stroke-linecap="butt"/>
<polygon points="294.5,310.0 291.3,313.8 288.0,317.6 284.8,321.4 281.5,325.3 278.1,329.1 274.8,333.0 271.4,336.8 268.0,340.7 264.8,344.5 261.6,348.3 258.3,352.1 255.1,355.9 251.8,359.8 248.4,363.7 245.1,367.6 241.7,371.5 244.9,373.9 248.2,376.1 251.4,378.2 254.7,380.1 258.0,382.0 261.3,383.7 264.7,385.4 268.0,387.0 270.7,388.1 273.4,389.2 276.2,390.3 278.9,391.4 281.7,392.4 284.4,393.5 287.2,394.6 290.0,395.7 292.7,396.3 295.4,397.0 298.2,397.7 300.9,398.5 303.7,399.3 306.4,400.1 309.2,401.0 312.0,402.0 314.6,402.6 317.2,403.2 319.8,403.9 322.5,404.7 325.1,405.5 327.7,406.4 330.4,407.4 333.0,408.5 335.5,408.4 338.0,408.3 340.5,408.4 343.0,408.5 345.5,408.6 348.0,408.8 350.5,409.1 353.0,409.5 355.8,408.8 358.6,408.1 361.3,407.6 364.1,407.1 366.8,406.7 369.6,406.4 372.3,406.1 375.0,406.0 377.5,406.1 380.1,406.4 382.6,406.7 385.1,407.1 387.6,407.5 390.1,408.1 392.5,408.8 395.0,409.5 397.8,408.2 400.6,407.1 403.4,406.0 406.2,405.0 408.9,404.1 411.6,403.3 414.3,402.6 417.0,402.0 418.4,401.1 419.8,400.1 421.2,399.2 422.6,398.3 423.9,397.5 425.3,396.6 426.6,395.8 428.0,395.0 428.7,393.4 429.4,391.7 430.0,390.1 430.7,388.5 431.4,386.8 432.1,385.2 432.7,383.6 433.4,382.0 433.3,381.3 433.1,380.6 433.0,379.9 432.8,379.2 432.7,378.5 432.6,377.9 432.4,377.2 432.3,376.5 432.0,374.8 431.7,373.1 431.4,371.4 431.1,369.7 430.9,368.0 430.6,366.3 430.3,364.7 430.0,363.0 428.6,358.9 427.2,354.8 425.9,350.9 424.5,347.0 423.1,343.3 421.7,339.6 420.4,336.0 419.0,332.5 417.6,328.6 416.2,324.8 414.8,321.1 413.5,317.5 412.1,314.0 410.7,310.6 409.4,307.3 408.0,304.0 406.6,301.3 405.2,298.6 403.8,296.0 402.5,293.5 401.1,291.0 399.7,288.6 398.4,286.3 397.0,284.0 395.6,282.2 394.2,280.5 392.9,278.8 391.5,277.1 390.1,275.5 388.7,274.0 387.4,272.5 386.0,271.0 385.0,269.8 384.1,268.6 383.1,267.5 382.2,266.3 381.2,265.2 380.3,264.1 379.3,263.1 378.4,262.0 377.4,262.5 376.5,263.1 375.5,263.6 374.6,264.2 373.6,264.7 372.6,265.3 371.7,265.8 370.7,266.4 368.5,267.5 366.3,268.7 364.1,269.9 361.9,271.2 359.7,272.4 357.5,273.7 355.2,275.0 353.0,276.3 350.5,277.3 348.1,278.4 345.6,279.4 343.1,280.5 340.6,281.6 338.2,282.7 335.7,283.9 333.2,285.0 331.6,286.5 329.9,288.0 328.3,289.5 326.6,291.0 325.0,292.5 323.3,294.0 321.7,295.5 320.0,297.0 316.8,298.7 313.7,300.3 310.5,302.0 307.3,303.6 304.1,305.3 300.9,306.9 297.7,308.4" fill="none" stroke="#555" stroke-width="2.8" stroke-linejoin="round"/>
<polygon points="194.3,330.7 199.0,329.2 203.7,327.7 208.3,326.0 212.8,324.2 217.4,322.3 221.9,320.3 226.3,318.2 230.7,316.0 235.4,316.3 240.2,316.3 244.8,316.1 249.5,315.7 254.2,315.1 258.8,314.2 263.4,313.2 268.0,312.0 270.0,311.0 271.9,309.9 273.8,308.8 275.8,307.7 277.7,306.6 279.7,305.5 281.6,304.4 283.5,303.2 288.1,301.5 292.7,299.6 297.3,297.7 301.9,295.7 306.4,293.6 310.9,291.4 315.5,289.2 320.0,287.0 324.2,284.6 328.3,282.3 332.5,279.9 336.6,277.6 340.7,275.3 344.8,273.0 348.9,270.8 353.0,268.6 356.2,267.2 359.4,265.8 362.6,264.4 365.8,263.2 368.9,261.9 372.1,260.8 375.2,259.7 378.4,258.7 380.2,260.3 381.9,261.9 383.7,263.5 385.5,265.3 387.3,267.1 389.1,269.0 390.9,271.0 392.7,273.0 395.2,275.2 397.6,277.6 400.1,280.1 402.6,282.8 405.0,285.6 407.5,288.5 410.0,291.7 412.5,295.0 414.7,298.5 416.9,302.2 419.0,306.1 421.2,310.1 423.4,314.3 425.6,318.7 427.8,323.3 430.0,328.0 431.9,331.7 433.9,335.4 435.8,339.3 437.8,343.4 439.7,347.6 441.6,351.9 443.6,356.4 445.5,361.0 446.5,365.8 447.5,370.7 448.6,375.7 449.6,380.8 450.6,386.0 451.6,391.2 452.7,396.6 453.7,402.0 454.2,406.0 454.7,410.0 455.2,414.1 455.7,418.2 456.3,422.3 456.8,426.5 457.3,430.7 457.8,435.0 458.3,438.3 458.8,441.7 459.4,445.1 459.9,448.6 460.4,452.0 460.9,455.5 461.5,459.0 462.0,462.6 461.6,465.0 461.3,467.4 460.9,469.7 460.5,472.1 460.1,474.5 459.8,476.9 459.4,479.4 459.0,481.8 458.5,483.2 458.0,484.6 457.5,486.0 457.0,487.4 456.5,488.8 456.0,490.2 455.5,491.6 455.0,493.0 453.7,496.8 452.3,500.6 451.0,504.5 449.6,508.4 448.2,512.3 446.8,516.3 445.4,520.4 444.0,524.5 442.6,522.5 441.3,520.5 439.9,518.5 438.5,516.6 437.2,514.8 435.8,512.9 434.4,511.1 433.0,509.4 431.0,506.7 428.9,504.0 426.9,501.5 424.8,499.0 422.8,496.6 420.7,494.3 418.6,492.1 416.5,490.0 415.4,488.5 414.4,487.1 413.3,485.7 412.3,484.3 411.2,482.9 410.1,481.6 409.1,480.3 408.0,479.0 405.3,476.0 402.6,473.1 399.8,470.4 397.1,467.9 394.3,465.4 391.6,463.2 388.8,461.0 386.0,459.0 383.3,456.6 380.5,454.4 377.8,452.3 375.0,450.3 372.3,448.5 369.5,446.8 366.8,445.2 364.0,443.7 361.3,442.4 358.5,441.1 355.8,440.0 353.0,439.0 350.3,438.1 347.5,437.3 344.8,436.6 342.0,436.0 339.3,435.3 336.5,434.7 333.8,434.1 331.0,433.7 328.2,433.3 325.5,433.0 322.7,432.8 320.0,432.7 317.9,432.6 315.7,432.5 313.6,432.5 311.5,432.6 309.4,432.6 307.2,432.7 305.1,432.8 303.0,433.0 300.6,433.7 298.1,434.5 295.7,435.3 293.3,436.2 290.8,437.0 288.4,437.9 285.9,438.9 283.5,439.8 280.7,440.0 278.0,440.2 275.2,440.5 272.5,440.8 269.7,441.1 267.0,441.4 264.2,441.7 261.5,442.0 256.7,439.6 251.9,437.2 247.2,434.7 242.5,432.1 237.8,429.4 233.2,426.5 228.6,423.4 224.0,420.0 222.3,418.9 220.7,417.8 219.0,416.6 217.4,415.3 215.7,414.1 214.1,412.8 212.4,411.4 210.8,410.0 210.0,406.1 209.1,402.3 208.3,398.3 207.5,394.3 206.6,390.3 205.8,386.3 205.0,382.2 204.2,378.0 202.9,372.5 201.7,366.9 200.5,361.2 199.2,355.4 198.0,349.4 196.8,343.3 195.5,337.1" fill="none" stroke="#000" stroke-width="4.0" stroke-linejoin="round"/>
<g fill="#000">
<circle cx="375.5" cy="264.5" r="2.85"/>
<circle cx="382.4" cy="269.3" r="2.85"/>
<circle cx="389.4" cy="274.9" r="2.85"/>
<circle cx="396.4" cy="281.6" r="2.85"/>
<circle cx="417.7" cy="309.4" r="2.85"/>
<circle cx="424.8" cy="321.8" r="2.85"/>
<circle cx="432.0" cy="335.8" r="2.85"/>
<circle cx="446.3" cy="369.9" r="2.85"/>
<circle cx="366.0" cy="268.2" r="2.85"/>
<circle cx="372.9" cy="272.2" r="2.85"/>
<circle cx="379.9" cy="277.0" r="2.85"/>
<circle cx="386.9" cy="282.7" r="2.85"/>
<circle cx="393.9" cy="289.5" r="2.85"/>
<circle cx="401.0" cy="297.4" r="2.85"/>
<circle cx="408.2" cy="306.7" r="2.85"/>
<circle cx="415.4" cy="317.5" r="2.85"/>
<circle cx="429.8" cy="344.1" r="2.85"/>
<circle cx="451.4" cy="398.8" r="2.85"/>
<circle cx="356.5" cy="272.4" r="2.85"/>
<circle cx="370.3" cy="279.9" r="2.85"/>
<circle cx="377.3" cy="284.7" r="2.85"/>
<circle cx="384.3" cy="290.5" r="2.85"/>
<circle cx="434.9" cy="368.7" r="2.85"/>
<circle cx="346.9" cy="277.0" r="2.85"/>
<circle cx="353.7" cy="280.0" r="2.85"/>
<circle cx="360.6" cy="283.5" r="2.85"/>
<circle cx="367.6" cy="287.6" r="2.85"/>
<circle cx="374.6" cy="292.5" r="2.85"/>
<circle cx="381.8" cy="298.3" r="2.85"/>
<circle cx="396.1" cy="313.2" r="2.85"/>
<circle cx="403.4" cy="322.7" r="2.85"/>
<circle cx="410.7" cy="333.7" r="2.85"/>
<circle cx="425.4" cy="360.8" r="2.85"/>
<circle cx="432.7" cy="377.2" r="2.85"/>
<circle cx="447.4" cy="416.5" r="2.85"/>
<circle cx="350.9" cy="287.7" r="2.85"/>
<circle cx="357.9" cy="291.2" r="2.85"/>
<circle cx="364.9" cy="295.3" r="2.85"/>
<circle cx="372.0" cy="300.3" r="2.85"/>
<circle cx="379.1" cy="306.1" r="2.85"/>
<circle cx="386.4" cy="313.1" r="2.85"/>
<circle cx="393.6" cy="321.3" r="2.85"/>
<circle cx="401.0" cy="330.8" r="2.85"/>
<circle cx="408.3" cy="341.9" r="2.85"/>
<circle cx="415.7" cy="354.7" r="2.85"/>
<circle cx="430.5" cy="385.9" r="2.85"/>
<circle cx="327.5" cy="287.0" r="2.85"/>
<circle cx="334.3" cy="289.6" r="2.85"/>
<circle cx="341.1" cy="292.3" r="2.85"/>
<circle cx="348.0" cy="295.4" r="2.85"/>
<circle cx="355.0" cy="298.9" r="2.85"/>
<circle cx="362.1" cy="303.1" r="2.85"/>
<circle cx="369.2" cy="308.1" r="2.85"/>
<circle cx="376.5" cy="314.1" r="2.85"/>
<circle cx="383.7" cy="321.1" r="2.85"/>
<circle cx="405.9" cy="350.2" r="2.85"/>
<circle cx="420.8" cy="377.9" r="2.85"/>
<circle cx="338.1" cy="300.0" r="2.85"/>
<circle cx="345.1" cy="303.2" r="2.85"/>
<circle cx="352.2" cy="306.8" r="2.85"/>
<circle cx="359.3" cy="311.0" r="2.85"/>
<circle cx="366.5" cy="316.1" r="2.85"/>
<circle cx="373.7" cy="322.1" r="2.85"/>
<circle cx="403.4" cy="358.6" r="2.85"/>
<circle cx="410.9" cy="371.7" r="2.85"/>
<circle cx="455.9" cy="493.9" r="2.85"/>
<circle cx="307.9" cy="297.3" r="2.85"/>
<circle cx="314.5" cy="299.9" r="2.85"/>
<circle cx="328.2" cy="305.0" r="2.85"/>
<circle cx="335.1" cy="307.8" r="2.85"/>
<circle cx="342.1" cy="311.0" r="2.85"/>
<circle cx="349.2" cy="314.7" r="2.85"/>
<circle cx="356.4" cy="319.0" r="2.85"/>
<circle cx="363.6" cy="324.1" r="2.85"/>
<circle cx="371.0" cy="330.2" r="2.85"/>
<circle cx="378.4" cy="337.3" r="2.85"/>
<circle cx="385.8" cy="345.8" r="2.85"/>
<circle cx="416.0" cy="395.4" r="2.85"/>
<circle cx="423.6" cy="412.5" r="2.85"/>
<circle cx="431.2" cy="431.8" r="2.85"/>
<circle cx="304.6" cy="305.1" r="2.85"/>
<circle cx="311.3" cy="307.7" r="2.85"/>
<circle cx="332.0" cy="315.7" r="2.85"/>
<circle cx="339.1" cy="318.9" r="2.85"/>
<circle cx="353.5" cy="327.0" r="2.85"/>
<circle cx="360.8" cy="332.2" r="2.85"/>
<circle cx="368.1" cy="338.4" r="2.85"/>
<circle cx="375.6" cy="345.7" r="2.85"/>
<circle cx="398.3" cy="375.8" r="2.85"/>
<circle cx="413.6" cy="404.4" r="2.85"/>
<circle cx="444.2" cy="487.2" r="2.85"/>
<circle cx="308.1" cy="315.5" r="2.85"/>
<circle cx="314.9" cy="318.2" r="2.85"/>
<circle cx="321.9" cy="320.8" r="2.85"/>
<circle cx="343.2" cy="330.8" r="2.85"/>
<circle cx="350.5" cy="335.2" r="2.85"/>
<circle cx="357.8" cy="340.5" r="2.85"/>
<circle cx="380.3" cy="362.8" r="2.85"/>
<circle cx="388.0" cy="372.9" r="2.85"/>
<circle cx="418.8" cy="431.0" r="2.85"/>
<circle cx="442.0" cy="497.3" r="2.85"/>
<circle cx="297.9" cy="320.8" r="2.85"/>
<circle cx="318.6" cy="328.9" r="2.85"/>
<circle cx="332.9" cy="335.2" r="2.85"/>
<circle cx="347.4" cy="343.5" r="2.85"/>
<circle cx="354.8" cy="348.9" r="2.85"/>
<circle cx="362.3" cy="355.2" r="2.85"/>
<circle cx="369.9" cy="362.7" r="2.85"/>
<circle cx="377.5" cy="371.5" r="2.85"/>
<circle cx="385.2" cy="381.8" r="2.85"/>
<circle cx="416.3" cy="440.6" r="2.85"/>
<circle cx="431.9" cy="482.8" r="2.85"/>
<circle cx="267.8" cy="314.4" r="2.85"/>
<circle cx="274.3" cy="318.7" r="2.85"/>
<circle cx="281.0" cy="322.5" r="2.85"/>
<circle cx="294.5" cy="328.8" r="2.85"/>
<circle cx="301.3" cy="331.6" r="2.85"/>
<circle cx="308.3" cy="334.3" r="2.85"/>
<circle cx="315.3" cy="337.1" r="2.85"/>
<circle cx="322.4" cy="340.1" r="2.85"/>
<circle cx="329.6" cy="343.5" r="2.85"/>
<circle cx="336.9" cy="347.4" r="2.85"/>
<circle cx="344.3" cy="352.0" r="2.85"/>
<circle cx="351.8" cy="357.5" r="2.85"/>
<circle cx="359.3" cy="363.9" r="2.85"/>
<circle cx="374.6" cy="380.4" r="2.85"/>
<circle cx="382.4" cy="390.8" r="2.85"/>
<circle cx="390.2" cy="402.8" r="2.85"/>
<circle cx="405.9" cy="432.5" r="2.85"/>
<circle cx="413.8" cy="450.4" r="2.85"/>
<circle cx="429.5" cy="493.1" r="2.85"/>
<circle cx="284.1" cy="334.0" r="2.85"/>
<circle cx="291.0" cy="337.0" r="2.85"/>
<circle cx="297.9" cy="339.8" r="2.85"/>
<circle cx="304.9" cy="342.6" r="2.85"/>
<circle cx="311.9" cy="345.4" r="2.85"/>
<circle cx="319.1" cy="348.5" r="2.85"/>
<circle cx="326.4" cy="352.0" r="2.85"/>
<circle cx="341.2" cy="360.7" r="2.85"/>
<circle cx="348.7" cy="366.2" r="2.85"/>
<circle cx="364.0" cy="380.5" r="2.85"/>
<circle cx="371.7" cy="389.5" r="2.85"/>
<circle cx="387.4" cy="412.3" r="2.85"/>
<circle cx="403.2" cy="442.3" r="2.85"/>
<circle cx="419.2" cy="480.8" r="2.85"/>
<circle cx="247.2" cy="319.0" r="2.85"/>
<circle cx="260.3" cy="330.4" r="2.85"/>
<circle cx="267.0" cy="334.9" r="2.85"/>
<circle cx="287.4" cy="345.3" r="2.85"/>
<circle cx="301.4" cy="351.0" r="2.85"/>
<circle cx="308.5" cy="354.0" r="2.85"/>
<circle cx="323.0" cy="360.7" r="2.85"/>
<circle cx="337.9" cy="369.5" r="2.85"/>
<circle cx="353.2" cy="381.8" r="2.85"/>
<circle cx="360.9" cy="389.7" r="2.85"/>
<circle cx="376.6" cy="409.6" r="2.85"/>
<circle cx="392.5" cy="436.2" r="2.85"/>
<circle cx="243.3" cy="327.0" r="2.85"/>
<circle cx="249.9" cy="333.3" r="2.85"/>
<circle cx="263.2" cy="343.2" r="2.85"/>
<circle cx="270.0" cy="347.2" r="2.85"/>
<circle cx="283.7" cy="353.8" r="2.85"/>
<circle cx="297.8" cy="359.7" r="2.85"/>
<circle cx="305.0" cy="362.7" r="2.85"/>
<circle cx="312.3" cy="365.9" r="2.85"/>
<circle cx="319.6" cy="369.5" r="2.85"/>
<circle cx="334.6" cy="378.6" r="2.85"/>
<circle cx="357.8" cy="399.1" r="2.85"/>
<circle cx="381.6" cy="431.9" r="2.85"/>
<circle cx="397.7" cy="462.7" r="2.85"/>
<circle cx="232.8" cy="328.0" r="2.85"/>
<circle cx="246.0" cy="341.6" r="2.85"/>
<circle cx="252.7" cy="347.0" r="2.85"/>
<circle cx="266.2" cy="355.7" r="2.85"/>
<circle cx="294.2" cy="368.5" r="2.85"/>
<circle cx="301.4" cy="371.6" r="2.85"/>
<circle cx="308.7" cy="374.9" r="2.85"/>
<circle cx="316.2" cy="378.6" r="2.85"/>
<circle cx="323.7" cy="382.9" r="2.85"/>
<circle cx="331.3" cy="387.9" r="2.85"/>
<circle cx="346.7" cy="400.7" r="2.85"/>
<circle cx="354.6" cy="408.8" r="2.85"/>
<circle cx="370.6" cy="429.4" r="2.85"/>
<circle cx="378.6" cy="442.1" r="2.85"/>
<circle cx="386.8" cy="456.7" r="2.85"/>
<circle cx="222.1" cy="327.7" r="2.85"/>
<circle cx="228.7" cy="336.3" r="2.85"/>
<circle cx="235.3" cy="343.7" r="2.85"/>
<circle cx="242.0" cy="350.1" r="2.85"/>
<circle cx="269.2" cy="368.1" r="2.85"/>
<circle cx="283.3" cy="374.5" r="2.85"/>
<circle cx="297.8" cy="380.8" r="2.85"/>
<circle cx="305.1" cy="384.2" r="2.85"/>
<circle cx="312.6" cy="388.0" r="2.85"/>
<circle cx="327.8" cy="397.5" r="2.85"/>
<circle cx="335.6" cy="403.5" r="2.85"/>
<circle cx="343.4" cy="410.5" r="2.85"/>
<circle cx="359.4" cy="428.5" r="2.85"/>
<circle cx="367.4" cy="439.7" r="2.85"/>
<circle cx="217.9" cy="336.1" r="2.85"/>
<circle cx="258.4" cy="373.4" r="2.85"/>
<circle cx="272.4" cy="380.5" r="2.85"/>
<circle cx="279.5" cy="383.8" r="2.85"/>
<circle cx="286.7" cy="386.9" r="2.85"/>
<circle cx="309.0" cy="397.6" r="2.85"/>
<circle cx="316.6" cy="402.1" r="2.85"/>
<circle cx="324.3" cy="407.3" r="2.85"/>
<circle cx="332.1" cy="413.5" r="2.85"/>
<circle cx="340.0" cy="420.7" r="2.85"/>
<circle cx="348.0" cy="429.1" r="2.85"/>
<circle cx="356.1" cy="438.9" r="2.85"/>
<circle cx="207.0" cy="334.6" r="2.85"/>
<circle cx="213.7" cy="344.7" r="2.85"/>
<circle cx="220.3" cy="353.5" r="2.85"/>
<circle cx="247.4" cy="378.3" r="2.85"/>
<circle cx="261.4" cy="386.4" r="2.85"/>
<circle cx="275.6" cy="393.2" r="2.85"/>
<circle cx="282.9" cy="396.5" r="2.85"/>
<circle cx="290.3" cy="399.9" r="2.85"/>
<circle cx="297.7" cy="403.5" r="2.85"/>
<circle cx="305.3" cy="407.5" r="2.85"/>
<circle cx="313.0" cy="412.1" r="2.85"/>
<circle cx="320.8" cy="417.5" r="2.85"/>
<circle cx="328.6" cy="423.8" r="2.85"/>
<circle cx="336.6" cy="431.1" r="2.85"/>
<circle cx="202.6" cy="343.3" r="2.85"/>
<circle cx="209.3" cy="353.5" r="2.85"/>
<circle cx="222.8" cy="370.1" r="2.85"/>
<circle cx="229.5" cy="376.8" r="2.85"/>
<circle cx="243.3" cy="387.6" r="2.85"/>
<circle cx="257.3" cy="396.0" r="2.85"/>
<circle cx="264.4" cy="399.6" r="2.85"/>
<circle cx="279.0" cy="406.4" r="2.85"/>
<circle cx="293.9" cy="413.6" r="2.85"/>
<circle cx="309.3" cy="422.5" r="2.85"/>
<circle cx="317.1" cy="428.0" r="2.85"/>
<circle cx="198.1" cy="352.2" r="2.85"/>
<circle cx="204.9" cy="362.5" r="2.85"/>
<circle cx="218.4" cy="379.4" r="2.85"/>
<circle cx="232.1" cy="392.1" r="2.85"/>
<circle cx="239.1" cy="397.3" r="2.85"/>
<circle cx="275.0" cy="416.6" r="2.85"/>
<circle cx="282.5" cy="420.2" r="2.85"/>
<circle cx="297.7" cy="428.3" r="2.85"/>
<circle cx="305.5" cy="433.2" r="2.85"/>
<circle cx="227.8" cy="401.9" r="2.85"/>
<circle cx="248.9" cy="416.0" r="2.85"/>
<circle cx="256.2" cy="419.8" r="2.85"/>
<circle cx="263.5" cy="423.5" r="2.85"/>
<circle cx="270.9" cy="427.1" r="2.85"/>
<circle cx="278.4" cy="430.8" r="2.85"/>
<circle cx="286.1" cy="434.8" r="2.85"/>
<circle cx="223.3" cy="412.1" r="2.85"/>
<circle cx="230.4" cy="417.5" r="2.85"/>
<circle cx="244.6" cy="426.5" r="2.85"/>
<circle cx="251.9" cy="430.5" r="2.85"/>
<circle cx="259.3" cy="434.2" r="2.85"/>
<circle cx="266.7" cy="438.0" r="2.85"/>
</g>
<line x1="298.1" y1="597.3" x2="295.7" y2="255.7" stroke="#000" stroke-width="1.8" stroke-linecap="round"/>
<line x1="298.1" y1="597.3" x2="567.6" y2="499.0" stroke="#000" stroke-width="1.8" stroke-linecap="round"/>
<line x1="298.1" y1="597.3" x2="127.0" y2="461.4" stroke="#000" stroke-width="1.8" stroke-linecap="round"/>
<line x1="127.0" y1="461.4" x2="112.6" y2="162.7" stroke="#000" stroke-width="1.8" stroke-linecap="round"/>
<line x1="567.6" y1="499.0" x2="585.8" y2="187.8" stroke="#000" stroke-width="1.8" stroke-linecap="round"/>
<line x1="295.7" y1="255.7" x2="585.8" y2="187.8" stroke="#000" stroke-width="1.8" stroke-linecap="round"/>
<line x1="295.7" y1="255.7" x2="112.6" y2="162.7" stroke="#000" stroke-width="1.8" stroke-linecap="round"/>
<line x1="112.6" y1="162.7" x2="379.7" y2="113.1" stroke="#000" stroke-width="1.8" stroke-linecap="round"/>
<line x1="585.8" y1="187.8" x2="379.7" y2="113.1" stroke="#000" stroke-width="1.8" stroke-linecap="round"/>
<line x1="323.7" y1="588.0" x2="333.2" y2="612.5" stroke="#000" stroke-width="1.8" stroke-linecap="round"/>
<line x1="392.0" y1="563.0" x2="401.9" y2="585.8" stroke="#000" stroke-width="1.8" stroke-linecap="round"/>
<line x1="456.8" y1="539.4" x2="467.3" y2="561.5" stroke="#000" stroke-width="1.8" stroke-linecap="round"/>
<line x1="518.4" y1="516.9" x2="527.8" y2="537.2" stroke="#000" stroke-width="1.8" stroke-linecap="round"/>
<line x1="157.1" y1="485.3" x2="146.0" y2="502.0" stroke="#000" stroke-width="1.8" stroke-linecap="round"/>
<line x1="195.4" y1="515.7" x2="182.5" y2="534.2" stroke="#000" stroke-width="1.8" stroke-linecap="round"/>
<line x1="236.7" y1="548.5" x2="223.9" y2="566.5" stroke="#000" stroke-width="1.8" stroke-linecap="round"/>
<line x1="281.2" y1="583.9" x2="269.6" y2="601.9" stroke="#000" stroke-width="1.8" stroke-linecap="round"/>
<line x1="112.6" y1="162.7" x2="85.0" y2="162.7" stroke="#000" stroke-width="1.8" stroke-linecap="round"/>
<line x1="116.4" y1="241.3" x2="90.5" y2="241.3" stroke="#000" stroke-width="1.8" stroke-linecap="round"/>
<line x1="120.1" y1="317.2" x2="95.3" y2="317.2" stroke="#000" stroke-width="1.8" stroke-linecap="round"/>
<line x1="123.6" y1="390.6" x2="99.6" y2="390.6" stroke="#000" stroke-width="1.8" stroke-linecap="round"/>
<line x1="127.0" y1="461.4" x2="104.5" y2="461.4" stroke="#000" stroke-width="1.8" stroke-linecap="round"/>
<rect x="712.6" y="16.90" width="57.4" height="74.90" fill="#006837"/>
<rect x="712.6" y="91.30" width="57.4" height="77.25" fill="#1A9850"/>
<rect x="712.6" y="168.05" width="57.4" height="77.25" fill="#A6D96A"/>
<rect x="712.6" y="244.80" width="57.4" height="77.25" fill="#D9EF8B"/>
<rect x="712.6" y="321.55" width="57.4" height="77.25" fill="#FFFFBF"/>
<rect x="712.6" y="398.30" width="57.4" height="77.25" fill="#FEE08B"/>
<rect x="712.6" y="475.05" width="57.4" height="77.25" fill="#FDAE61"/>
<rect x="712.6" y="551.80" width="57.4" height="77.25" fill="#D73027"/>
<rect x="712.6" y="628.55" width="57.4" height="76.75" fill="#A50026"/>
<text x="824.8" y="32.3" text-anchor="middle" font-family="Liberation Sans, Arial, sans-serif" font-size="40" fill="#000" >5.0</text>
<text x="824.8" y="118.4" text-anchor="middle" font-family="Liberation Sans, Arial, sans-serif" font-size="40" fill="#000" >4.5</text>
<text x="824.8" y="204.6" text-anchor="middle" font-family="Liberation Sans, Arial, sans-serif" font-size="40" fill="#000" >4.0</text>
<text x="824.8" y="290.7" text-anchor="middle" font-family="Liberation Sans, Arial, sans-serif" font-size="40" fill="#000" >3.5</text>
<text x="824.8" y="376.8" text-anchor="middle" font-family="Liberation Sans, Arial, sans-serif" font-size="40" fill="#000" >3.0</text>
<text x="824.8" y="462.9" text-anchor="middle" font-family="Liberation Sans, Arial, sans-serif" font-size="40" fill="#000" >2.5</text>
<text x="824.8" y="549.0" text-anchor="middle" font-family="Liberation Sans, Arial, sans-serif" font-size="40" fill="#000" >2.0</text>
<text x="824.8" y="635.2" text-anchor="middle" font-family="Liberation Sans, Arial, sans-serif" font-size="40" fill="#000" >1.5</text>
<text x="824.8" y="721.3" text-anchor="middle" font-family="Liberation Sans, Arial, sans-serif" font-size="40" fill="#000" >1.0</text>
<text x="61.1" y="175.8" text-anchor="middle" font-family="Liberation Sans, Arial, sans-serif" font-size="40" fill="#000" >5</text>
<text x="65.9" y="255.5" text-anchor="middle" font-family="Liberation Sans, Arial, sans-serif" font-size="40" fill="#000" >4</text>
<text x="70.3" y="331.4" text-anchor="middle" font-family="Liberation Sans, Arial, sans-serif" font-size="40" fill="#000" >3</text>
<text x="74.6" y="403.3" text-anchor="middle" font-family="Liberation Sans, Arial, sans-serif" font-size="40" fill="#000" >2</text>
<text x="81.9" y="474.4" text-anchor="middle" font-family="Liberation Sans, Arial, sans-serif" font-size="40" fill="#000" >1</text>
<text x="343.0" y="654.7" text-anchor="middle" font-family="Liberation Sans, Arial, sans-serif" font-size="40" fill="#000" >-2</text>
<text x="411.3" y="627.3" text-anchor="middle" font-family="Liberation Sans, Arial, sans-serif" font-size="40" fill="#000" >-1</text>
<text x="478.8" y="603.0" text-anchor="middle" font-family="Liberation Sans, Arial, sans-serif" font-size="40" fill="#000" >0</text>
<text x="539.4" y="577.5" text-anchor="middle" font-family="Liberation Sans, Arial, sans-serif" font-size="40" fill="#000" >1</text>
<text x="128.3" y="541.2" text-anchor="middle" font-family="Liberation Sans, Arial, sans-serif" font-size="40" fill="#000" >1</text>
<text x="166.4" y="572.6" text-anchor="middle" font-family="Liberation Sans, Arial, sans-serif" font-size="40" fill="#000" >0</text>
<text x="208.0" y="605.6" text-anchor="middle" font-family="Liberation Sans, Arial, sans-serif" font-size="40" fill="#000" >-1</text>
<text x="248.9" y="645.2" text-anchor="middle" font-family="Liberation Sans, Arial, sans-serif" font-size="40" fill="#000" >-2</text>
<text x="36.0" y="311.3" text-anchor="middle" font-family="Liberation Sans, Arial, sans-serif" font-size="39.2" fill="#000" transform="rotate(-92.6 36.0 311.3)" >pro-social IM</text>
<text x="490.3" y="657.5" text-anchor="middle" font-family="Liberation Sans, Arial, sans-serif" font-size="39" fill="#000" transform="rotate(-18.5 490.3 657.5)" >expected trust</text>
<text x="137.0" y="620.3" text-anchor="middle" font-family="Liberation Sans, Arial, sans-serif" font-size="38.4" fill="#000" transform="rotate(39.5 137.0 620.3)" >perceived trust</text>
</svg>
</body></html>
